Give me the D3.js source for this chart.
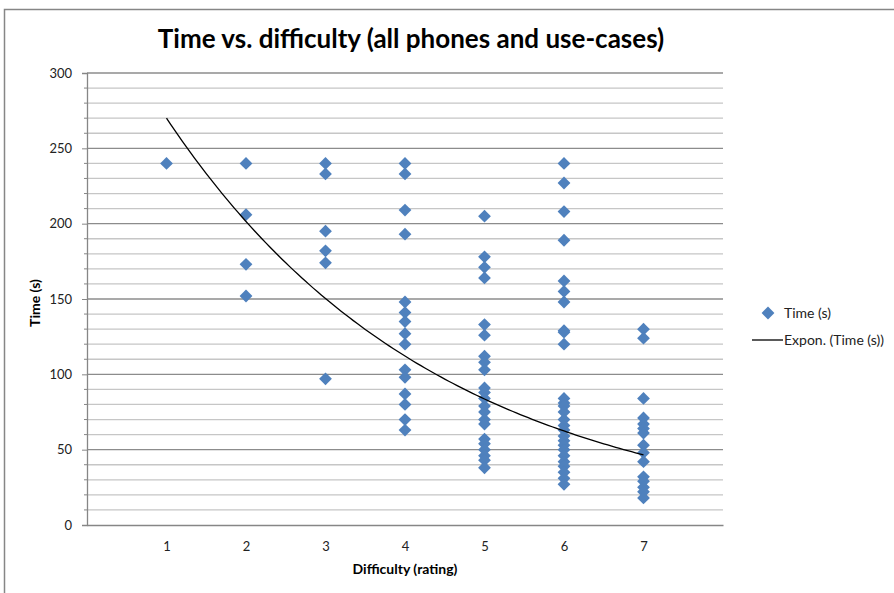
<!DOCTYPE html>
<html><head><meta charset="utf-8">
<script src="https://cdn.jsdelivr.net/npm/d3@7"></script>
<style>
html,body{margin:0;padding:0;background:#fff;}
text{font-family:Lato,"Open Sans",sans-serif;}
</style></head>
<body><svg id="c" width="894" height="593"></svg>
<script>
const difficultyLevels = [1, 2, 3, 4, 5, 6, 7];
const timesD1 = [240];
const timesD2 = [240, 206, 173, 152];
const timesD3 = [240, 233, 195, 182, 174, 97];
const timesD4 = [240, 233, 209, 193, 148, 141, 135, 127, 120, 103, 98, 87, 80, 70, 63];
const timesD5 = [205, 178, 171, 164, 133, 126, 112, 108, 103, 91, 88, 84, 79, 75, 70, 67, 57, 54, 50, 46, 43, 38];
const timesD6 = [240, 227, 208, 189, 162, 155, 148, 129, 128, 120, 84, 81, 79, 75, 70, 66, 63, 59, 56, 53, 50, 46, 42, 39, 35, 31, 27];
const timesD7 = [130, 124, 84, 71, 67, 64, 61, 53, 48, 42, 32, 29, 25, 22, 18];
// exponential trendline y = A * exp(B * x)
const trendA = 362;
const trendB = -0.293;
const trendRange = [1, 7];
const xTicks = [1, 2, 3, 4, 5, 6, 7];
const yTicks = [0, 50, 100, 150, 200, 250, 300];
const title = "Time vs. difficulty (all phones and use-cases)";
const xTitle = "Difficulty (rating)";
const yTitle = "Time (s)";
const legendLabels = ["Time (s)", "Expon. (Time (s))"];

const groups = [timesD1, timesD2, timesD3, timesD4, timesD5, timesD6, timesD7];
const points = [];
groups.forEach((g, i) => g.forEach(t => points.push({x: difficultyLevels[i], y: t})));

const svg = d3.select("#c");
const pLeft = 87, pRight = 723, pTop = 73, pBottom = 525;
const x = d3.scaleLinear().domain([0, 8]).range([pLeft, pRight]);
const y = d3.scaleLinear().domain([0, 300]).range([pBottom, pTop]);

// outer chart border
svg.append("rect").attr("x", 4.5).attr("y", 9.5).attr("width", 900).attr("height", 600)
  .attr("fill", "#fff").attr("stroke", "#868686").attr("stroke-width", 1.5);

// gridlines
const minor = d3.range(10, 301, 10).filter(v => v % 50 !== 0);
svg.append("g").selectAll("line").data(minor).join("line")
  .attr("x1", pLeft).attr("x2", pRight).attr("y1", d => y(d)).attr("y2", d => y(d))
  .attr("stroke", "#c6c6c6").attr("stroke-width", 1.3);
svg.append("g").selectAll("line").data(yTicks.filter(v => v > 0)).join("line")
  .attr("x1", pLeft).attr("x2", pRight).attr("y1", d => y(d)).attr("y2", d => y(d))
  .attr("stroke", "#8c8c8c").attr("stroke-width", 1.3);

// axes
const yAxis = d3.axisLeft(y).tickValues(yTicks).tickSize(5).tickPadding(10).tickFormat(d3.format("d"));
const gy = svg.append("g").attr("transform", `translate(${pLeft},0)`).call(yAxis);
gy.select(".domain").attr("stroke", "#868686").attr("stroke-width", 1.3);
gy.selectAll(".tick line").attr("stroke", "#868686");
gy.selectAll("text").attr("font-size", 13).attr("fill", "#222");

const xAxis = d3.axisBottom(x).tickValues(xTicks).tickSize(0).tickPadding(17).tickFormat(d3.format("d"));
const gx = svg.append("g").attr("transform", `translate(0,${pBottom})`).call(xAxis);
gx.select(".domain").attr("stroke", "#868686").attr("stroke-width", 1.3);
gx.selectAll("text").attr("font-size", 13).attr("fill", "#222");

// minor tick marks on y axis
svg.append("g").selectAll("line").data(minor).join("line")
  .attr("x1", pLeft - 3).attr("x2", pLeft).attr("y1", d => y(d)).attr("y2", d => y(d))
  .attr("stroke", "#868686");

// points
const diamond = d3.symbol().type(d3.symbolSquare).size(82);
svg.append("g").selectAll("path").data(points).join("path")
  .attr("d", diamond)
  .attr("transform", d => `translate(${x(d.x)},${y(d.y)}) rotate(45)`)
  .attr("fill", "#4f81bd");

// trendline
const trend = d3.range(trendRange[0], trendRange[1] + 0.001, 0.05).map(v => ({x: v, y: trendA * Math.exp(trendB * v)}));
svg.append("path").datum(trend)
  .attr("d", d3.line().x(d => x(d.x)).y(d => y(d.y)))
  .attr("fill", "none").attr("stroke", "#000").attr("stroke-width", 1.3);

// titles
svg.append("text").attr("x", 411).attr("y", 48).attr("text-anchor", "middle")
  .attr("font-size", 26).attr("font-weight", "bold").attr("fill", "#000").text(title);
svg.append("text").attr("x", 405).attr("y", 574).attr("text-anchor", "middle")
  .attr("font-size", 14).attr("font-weight", "bold").attr("fill", "#000").text(xTitle);
svg.append("text").attr("transform", "translate(40,303) rotate(-90)").attr("text-anchor", "middle")
  .attr("font-size", 14).attr("font-weight", "bold").attr("fill", "#000").text(yTitle);

// legend
const lg = svg.append("g");
lg.append("path").attr("d", diamond).attr("transform", "translate(768,313) rotate(45)").attr("fill", "#4f81bd");
lg.append("text").attr("x", 784).attr("y", 318).attr("font-size", 14).attr("fill", "#222").text(legendLabels[0]);
lg.append("line").attr("x1", 752).attr("x2", 783).attr("y1", 340).attr("y2", 340).attr("stroke", "#000").attr("stroke-width", 1.3);
lg.append("text").attr("x", 784).attr("y", 345).attr("font-size", 14).attr("fill", "#222").text(legendLabels[1]);
</script></body></html>
